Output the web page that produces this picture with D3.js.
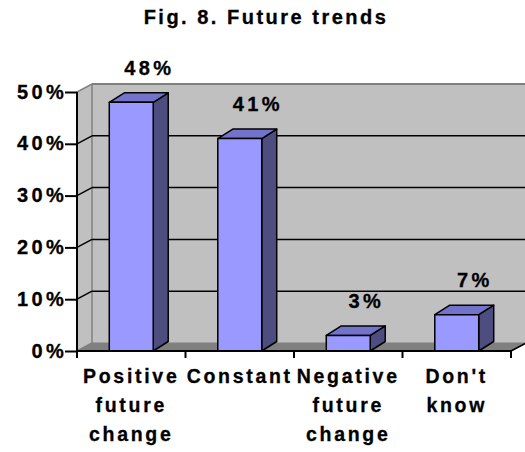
<!DOCTYPE html>
<html>
<head>
<meta charset="utf-8">
<script src="https://cdn.jsdelivr.net/npm/d3@7"></script>
<style>
  html, body { margin: 0; padding: 0; background: #ffffff; }
  svg { display: block; }
  text { font-family: "Liberation Sans", Arial, Helvetica, sans-serif; font-weight: bold; fill: #000; stroke: #000; stroke-width: 0.3px; }
</style>
</head>
<body>
<svg id="chart" width="525" height="452"></svg>
<script>
// Survey answers on expected future trends
const categories = [
  ["Positive", "future", "change"],
  ["Constant"],
  ["Negative", "future", "change"],
  ["Don't", "know"]
];
const values = [48, 41, 3, 7];
const yTicks = [0, 10, 20, 30, 40, 50];
const title = "Fig. 8. Future trends";

(function () {
  const svg = d3.select("#chart");

  // Plot frame (front plane) and 3-D depth offsets
  const plotLeft = 77, plotRight = 511, plotBottom = 351, plotTop = 92;
  const wallDx = 15, wallDy = 8;     // back wall offset
  const barDx = 15, barDy = 9.5;     // bar depth

  const x = d3.scaleBand()
    .domain(d3.range(values.length))
    .range([plotLeft, plotRight])
    .padding(0);
  const y = d3.scaleLinear().domain([0, 50]).range([plotBottom, plotTop]);
  const barW = x.bandwidth() * 0.405;

  // Back wall
  svg.append("rect")
    .attr("x", plotLeft + wallDx).attr("y", y(50) - wallDy)
    .attr("width", 525 - (plotLeft + wallDx)).attr("height", y(0) - y(50))
    .attr("fill", "#c0c0c0");
  svg.append("line")
    .attr("x1", plotLeft + wallDx).attr("x2", 525)
    .attr("y1", y(50) - wallDy).attr("y2", y(50) - wallDy)
    .attr("stroke", "#808080").attr("stroke-width", 2);

  // Side wall
  svg.append("path")
    .attr("d", `M${plotLeft},${y(0)}L${plotLeft},${y(50)}L${plotLeft + wallDx},${y(50) - wallDy}L${plotLeft + wallDx},${y(0) - wallDy}Z`)
    .attr("fill", "#c0c0c0").attr("stroke", "#808080").attr("stroke-width", 1.5);

  // Floor
  svg.append("path")
    .attr("d", `M${plotLeft},${y(0)}L${plotLeft + wallDx},${y(0) - wallDy}L${plotRight + wallDx},${y(0) - wallDy}L${plotRight},${y(0)}Z`)
    .attr("fill", "#808080").attr("stroke", "#808080");
  svg.append("line")
    .attr("x1", plotRight).attr("y1", y(0))
    .attr("x2", plotRight + wallDx).attr("y2", y(0) - wallDy)
    .attr("stroke", "#000").attr("stroke-width", 1.5);

  // Gridlines: across the back wall and diagonally on the side wall
  const grid = svg.append("g").attr("stroke", "#000").attr("stroke-width", 1.5);
  yTicks.filter(v => v > 0 && v < 50).forEach(v => {
    grid.append("line")
      .attr("x1", plotLeft + wallDx).attr("x2", 525)
      .attr("y1", y(v) - wallDy).attr("y2", y(v) - wallDy);
    grid.append("line")
      .attr("x1", plotLeft).attr("x2", plotLeft + wallDx)
      .attr("y1", y(v)).attr("y2", y(v) - wallDy);
  });

  // Bars: side, top and front faces
  const bars = svg.append("g").attr("stroke", "#000").attr("stroke-width", 1.5).attr("stroke-linejoin", "round");
  values.forEach((v, i) => {
    const x0 = x(i) + (x.bandwidth() - barW) / 2, x1 = x0 + barW;
    const y0 = y(0), y1 = y(v);
    bars.append("path")
      .attr("d", `M${x1},${y0}L${x1},${y1}L${x1 + barDx},${y1 - barDy}L${x1 + barDx},${y0 - barDy}Z`)
      .attr("fill", "#4d4d80");
    bars.append("path")
      .attr("d", `M${x0},${y1}L${x0 + barDx},${y1 - barDy}L${x1 + barDx},${y1 - barDy}L${x1},${y1}Z`)
      .attr("fill", "#7373cc");
    bars.append("rect")
      .attr("x", x0).attr("y", y1).attr("width", barW).attr("height", y0 - y1)
      .attr("fill", "#9999ff");
    // value label above the bar
    svg.append("text")
      .attr("x", x0 + barW / 2 + 18)
      .attr("y", y1 - barDy - 18)
      .attr("text-anchor", "middle")
      .attr("font-size", 20)
      .attr("letter-spacing", 3.3)
      .text(v + "%");
  });

  // Y axis
  const yAxis = svg.append("g")
    .attr("transform", `translate(${plotLeft},0)`)
    .call(d3.axisLeft(y).tickValues(yTicks).tickFormat(d => d + "%").tickSize(12).tickPadding(-2));
  yAxis.selectAll("path, line").attr("stroke", "#000").attr("stroke-width", 2);
  yAxis.select(".domain").attr("d", `M0,${y(0)}V${y(50)}`);
  yAxis.selectAll("text")
    .attr("font-family", "'Liberation Sans', Arial, sans-serif")
    .attr("font-weight", "bold")
    .attr("font-size", 20)
    .attr("letter-spacing", 3.3)
    .attr("dy", "0.3em")
    .attr("fill", "#000");

  // X axis with ticks at the category boundaries
  const xAxis = svg.append("g").attr("stroke", "#000").attr("stroke-width", 2);
  xAxis.append("line").attr("x1", plotLeft).attr("x2", plotRight).attr("y1", y(0)).attr("y2", y(0));
  d3.range(values.length + 1).forEach(i => {
    const bx = i < values.length ? x(i) : plotRight;
    xAxis.append("line").attr("x1", bx).attr("x2", bx).attr("y1", y(0)).attr("y2", y(0) + 7);
  });

  // Category labels
  categories.forEach((lines, i) => {
    const t = svg.append("text")
      .attr("text-anchor", "middle")
      .attr("font-size", 19.5)
      .attr("letter-spacing", 2.7);
    lines.forEach((s, k) => {
      t.append("tspan")
        .attr("x", x(i) + x.bandwidth() / 2)
        .attr("y", 383 + k * 29)
        .text(s);
    });
  });

  // Title
  svg.append("text")
    .attr("x", 266).attr("y", 24)
    .attr("text-anchor", "middle")
    .attr("font-size", 20)
    .attr("letter-spacing", 2.5)
    .text(title);
})();
</script>
</body>
</html>
